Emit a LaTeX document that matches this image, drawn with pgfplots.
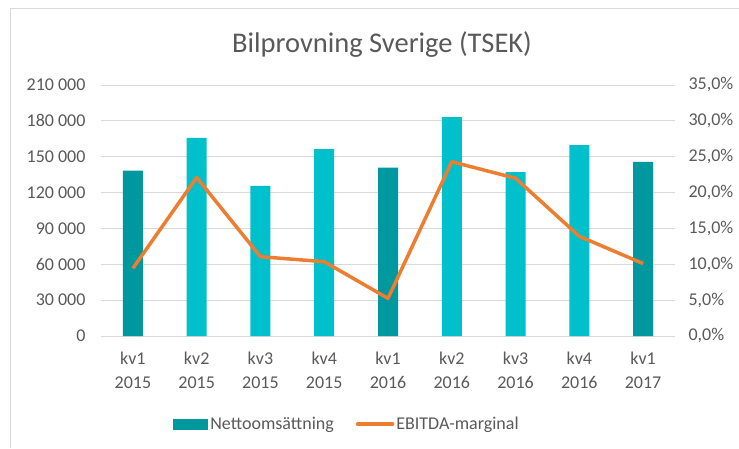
\documentclass[border=0pt]{standalone}
\usepackage{pgfplots}
\pgfplotsset{compat=1.18}
\usepackage{fontspec}
\setmainfont{Carlito}
\definecolor{dark}{HTML}{00989F}
\definecolor{light}{HTML}{00C0CC}
\definecolor{orng}{HTML}{ED7D31}
\definecolor{txt}{HTML}{595959}
\definecolor{grd}{HTML}{D9D9D9}
\begin{document}
\begin{tikzpicture}[x=1pt,y=1pt]
\path[use as bounding box] (0,0) rectangle (739,448);
\draw[grd, line width=1pt] (10.5,0) -- (10.5,439.5) -- (739,439.5);
\node[txt, font=\fontsize{28.5}{32}\selectfont] at (382,403) {Bilprovning Sverige (TSEK)};
\begin{axis}[
  at={(101pt,112pt)}, anchor=south west,
  width=574pt, height=251pt, scale only axis,
  xmin=-0.5, xmax=8.5, ymin=0, ymax=210000,
  scaled y ticks=false,
  xtick={0,...,8},
  xticklabels={{kv1\\2015},{kv2\\2015},{kv3\\2015},{kv4\\2015},{kv1\\2016},{kv2\\2016},{kv3\\2016},{kv4\\2016},{kv1\\2017}},
  xticklabel style={align=center, text=txt, font=\fontsize{18}{24}\selectfont, yshift=-8pt},
  ytick={0,30000,60000,90000,120000,150000,180000,210000},
  yticklabels={0,30 000,60 000,90 000,120 000,150 000,180 000,210 000},
  yticklabel style={text=txt, font=\fontsize{18}{21}\selectfont, xshift=-12pt},
  /pgf/number format/assume math mode=true,
  ymajorgrids, grid style={grd, line width=1pt},
  axis line style={draw=none}, major tick style={draw=none},
  axis y line*=left, axis x line*=bottom,
  ybar, bar width=20pt, bar shift=0pt,
]
\addplot[fill=dark, draw=none] coordinates {(0,138300) (4,140800) (8,145600)};
\addplot[fill=light, draw=none] coordinates {(1,165700) (2,125500) (3,156400) (5,183200) (6,137200) (7,159800)};
\end{axis}
\begin{axis}[
  at={(101pt,112pt)}, anchor=south west,
  width=574pt, height=251pt, scale only axis,
  xmin=-0.5, xmax=8.5, ymin=0, ymax=0.35,
  scaled y ticks=false,
  axis y line*=right, axis x line=none,
  ytick={0,0.05,0.10,0.15,0.20,0.25,0.30,0.35},
  yticklabels={{0,0\%},{5,0\%},{10,0\%},{15,0\%},{20,0\%},{25,0\%},{30,0\%},{35,0\%}},
  yticklabel style={text=txt, font=\fontsize{18}{21}\selectfont, xshift=10pt},
  /pgf/number format/assume math mode=true,
  axis line style={draw=none}, major tick style={draw=none},
  legend columns=2,
  legend style={at={(0.4286,0)}, anchor=north, yshift=-77pt, draw=none, fill=none,
    font=\fontsize{18}{21}\selectfont, text=txt,
    /tikz/every even column/.append style={column sep=20pt}},
]
\addlegendimage{area legend, fill=dark, draw=none, legend image code/.code={\fill[dark] (0cm,-0.19cm) rectangle (1.23cm,0.19cm);}}
\addlegendentry{Nettoomsättning}
\addplot[orng, line width=3.5pt, line join=round, mark=none, legend image code/.code={\draw[orng, line width=3.5pt, line cap=round] (0cm,0cm) -- (1.23cm,0cm);}] coordinates {
(0,0.0944) (1,0.221) (2,0.1106) (3,0.1036) (4,0.0525) (5,0.243) (6,0.220) (7,0.139) (8,0.101)};
\addlegendentry{EBITDA-marginal}
\end{axis}
\end{tikzpicture}
\end{document}
